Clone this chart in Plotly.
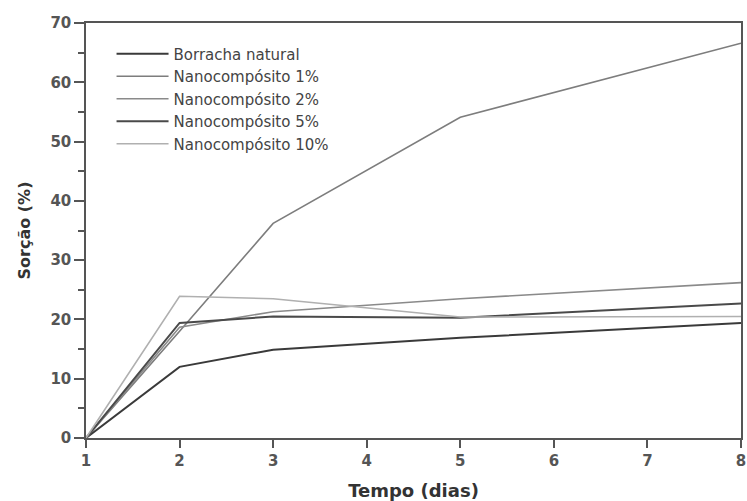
import plotly.graph_objects as go

dias = [1, 2, 3, 5, 8]
borracha = [0, 12.0, 14.9, 16.9, 19.4]
nano1 = [0, 18.0, 36.2, 54.1, 66.6]
nano2 = [0, 18.7, 21.3, 23.5, 26.2]
nano5 = [0, 19.4, 20.5, 20.3, 22.7]
nano10 = [0, 23.9, 23.5, 20.4, 20.5]

series = [
    ("Borracha natural", borracha, "#3a3a3a", 2.0),
    ("Nanocompósito 1%", nano1, "#7d7d7d", 1.6),
    ("Nanocompósito 2%", nano2, "#8a8a8a", 1.6),
    ("Nanocompósito 5%", nano5, "#4a4a4a", 2.0),
    ("Nanocompósito 10%", nano10, "#b0b0b0", 1.6),
]

fig = go.Figure()
for name, vals, color, w in series:
    fig.add_trace(go.Scatter(x=dias, y=vals, name=name, mode="lines",
                             line=dict(color=color, width=w)))

axis_common = dict(
    showline=True, linecolor="#555555", linewidth=1.5, mirror=True,
    ticks="outside", tickcolor="#555555", tickwidth=1.5,
    showgrid=False, zeroline=False, ticklabeloverflow="allow", automargin=False,
    tickfont=dict(family="DejaVu Sans", size=15, color="#555555", weight="bold"),
)

fig.update_layout(
    width=747, height=501,
    margin=dict(l=86, r=6, t=23, b=63),
    plot_bgcolor="white", paper_bgcolor="white",
    showlegend=True,
    legend=dict(x=0.039, y=0.965, xanchor="left", yanchor="top",
                bgcolor="rgba(0,0,0,0)", borderwidth=0,
                font=dict(family="DejaVu Sans", size=15, color="#444444"),
                tracegroupgap=0, itemwidth=52),
    xaxis=dict(range=[1, 8], tickmode="array", tickvals=[1, 2, 3, 4, 5, 6, 7, 8],
               ticklen=8,
               title=dict(text="<b>Tempo (dias)</b>", standoff=16,
                          font=dict(family="DejaVu Sans", size=18, color="#333333")),
               **axis_common),
    yaxis=dict(range=[0, 70], tickmode="array", tickvals=[0, 10, 20, 30, 40, 50, 60, 70],
               ticklen=10,
               minor=dict(ticks="outside", tickvals=[5, 15, 25, 35, 45, 55, 65],
                          ticklen=6, tickcolor="#555555", tickwidth=1.5),
               title=dict(text="<b>Sorção (%)</b>", standoff=16,
                          font=dict(family="DejaVu Sans", size=16, color="#333333")),
               **axis_common),
)

fig.write_html("out.html")
